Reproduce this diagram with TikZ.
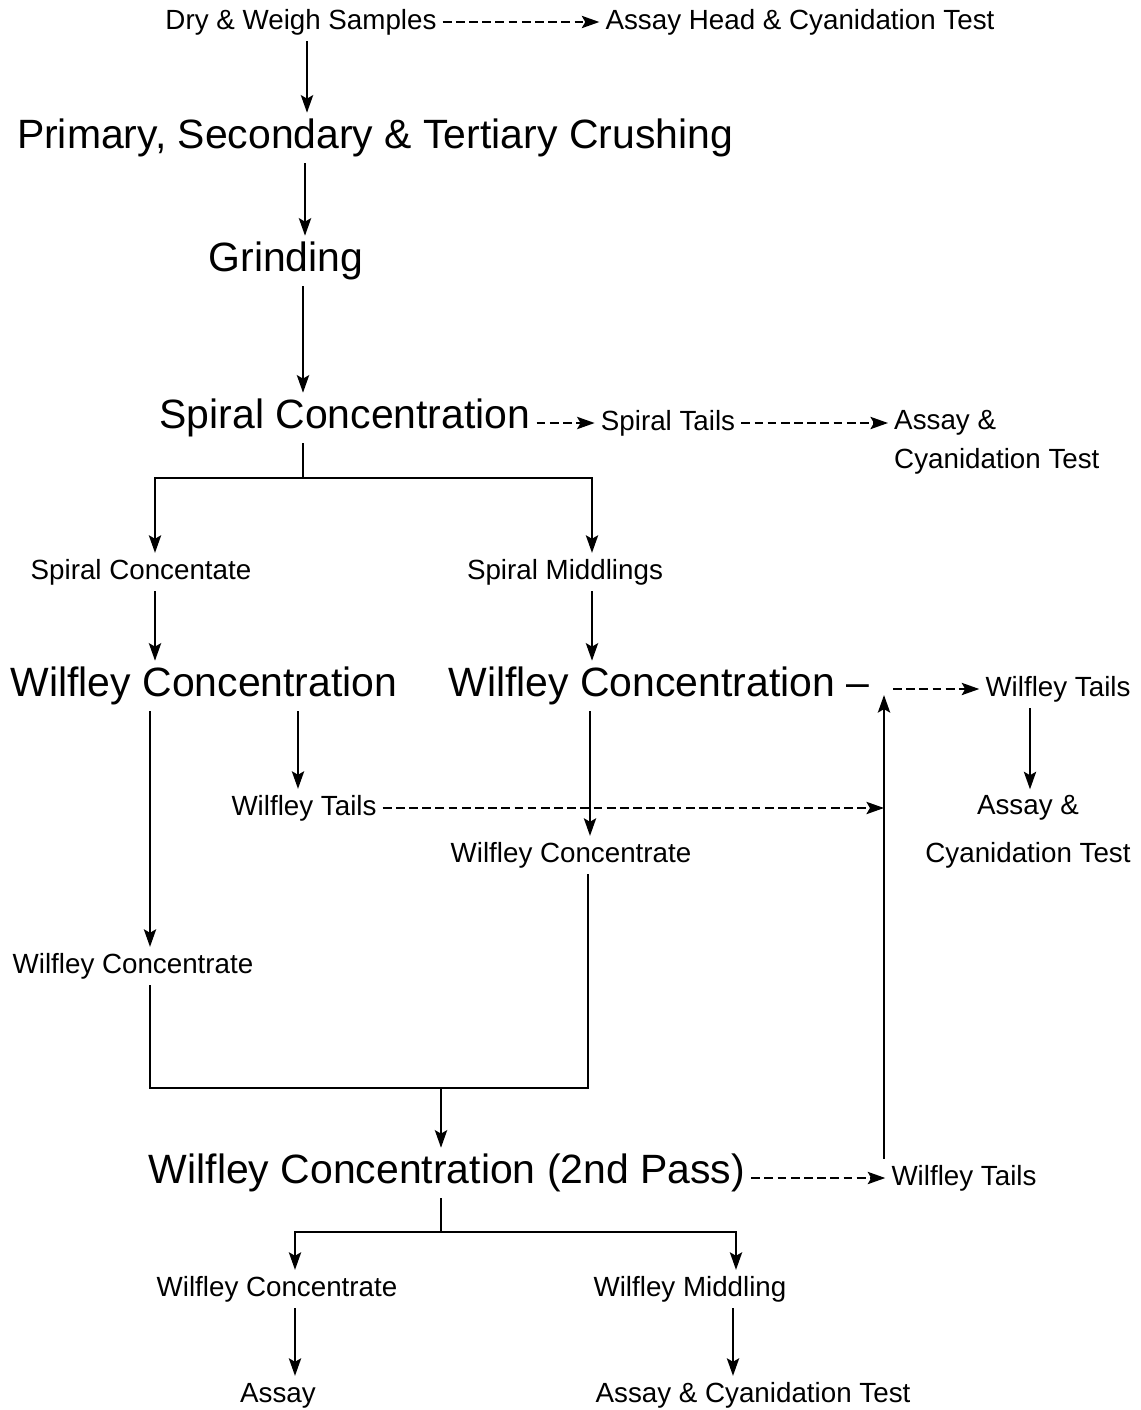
\documentclass[tikz,border=0pt]{standalone}
\usepackage{fontspec}
\setmainfont{Liberation Sans}
\usetikzlibrary{arrows.meta, positioning}

\begin{document}
\begin{tikzpicture}[>={Stealth[length=10pt,width=7pt,inset=2pt]}, x=0.02cm, y=-0.02cm, line width=1.1pt]
  \tikzset{
    small/.style={font=\fontsize{15.8}{19}\selectfont, inner sep=3pt, text height=11.4pt, text depth=3.3pt},
    big/.style={font=\fontsize{23.3}{28}\selectfont, inner sep=3pt, text height=16.8pt, text depth=4.9pt},
    twoline/.style={font=\fontsize{15.8}{#1}\selectfont, inner sep=3pt},
    flow/.style={dash pattern=on 5pt off 2.5pt}
  }
  \useasboundingbox (0,0) rectangle (1141,1410);

  \node[small] (dry) at (301,22) {Dry \& Weigh Samples};
  \node[small] (headtest) at (800,22) {Assay Head \& Cyanidation Test};
  \node[big] (crush) at (375,138) {Primary, Secondary \& Tertiary Crushing};
  \node[big] (grind) at (286,261) {Grinding};
  \node[big] (spiral) at (345,418) {Spiral Concentration};
  \node[small] (stails) at (668,423) {Spiral Tails};
  \node[twoline=22.2pt, align=left, anchor=west] (stassay) at (888,442) {Assay \&\\Cyanidation Test};

  \node[small] (sconc) at (141,572) {Spiral Concentate};
  \node[small] (smid) at (565,572) {Spiral Middlings};

  \node[big] (wcl) at (204,686) {Wilfley Concentration};
  \node[big] (wcr) at (659,686) {Wilfley Concentration --};
  \node[small] (wtr) at (1058,689) {Wilfley Tails};
  \node[twoline=27.3pt, align=center] (wtrassay) at (1028,832) {Assay \&\\Cyanidation Test};

  \node[small] (wtl) at (304,808) {Wilfley Tails};
  \node[small] (wccr) at (571,855) {Wilfley Concentrate};
  \node[small] (wccl) at (133,966) {Wilfley Concentrate};

  \node[big] (wc2) at (447,1173) {Wilfley Concentration (2nd Pass)};
  \node[small] (wt2) at (964,1178) {Wilfley Tails};

  \node[small] (wcc2) at (277,1289) {Wilfley Concentrate};
  \node[small] (wmid) at (690,1289) {Wilfley Middling};
  \node[small] (assay) at (278,1395) {Assay};
  \node[small] (assaycy) at (753,1395) {Assay \& Cyanidation Test};

  \coordinate (split1) at (303,478);
  \coordinate (join) at (884,688);
  \coordinate (merge) at (441,1088);
  \coordinate (split2) at (441,1232);

  % main line
  \path[->] (dry.south -| 307,0) edge (crush.north -| 307,0);
  \path[->] (crush.south -| 305,0) edge (grind.north -| 305,0);
  \path[->] (grind.south -| 303,0) edge (spiral.north -| 303,0);
  \path[flow,->] (dry.east) edge (headtest.west);
  \path[flow,->] (spiral.east |- stails.west) edge (stails.west);
  \path[flow,->] (stails.east) edge (stails.east -| stassay.west);

  \draw (spiral.south -| split1) -- (split1);
  \draw[->] (split1) -| (sconc.north -| 155,0);
  \draw[->] (split1) -| (smid.north -| 592,0);
  \path[->] (sconc.south -| 155,0) edge (wcl.north -| 155,0);
  \path[->] (smid.south -| 592,0) edge (wcr.north -| 592,0);

  % wilfley tables
  \path[->] (wcl.south -| 150,0) edge (wccl.north -| 150,0);
  \path[->] (wcl.south -| 298,0) edge (wtl.north -| 298,0);
  \path[->] (wcr.south -| 590,0) edge (wccr.north -| 590,0);
  \path[flow,->] (wtl.east) edge (wtl.east -| join);
  \path[flow,->] (wtr.west -| 893,0) edge (wtr.west);
  \path[->] (wtr.south -| 1030,0) edge (wtrassay.north -| 1030,0);
  \draw[->] (wt2.north -| join) -- ([yshift=-4pt]join);

  \draw (wccl.south -| 150,0) |- (merge) -| (wccr.south -| 588,0);
  \path[->] (merge) edge (wc2.north -| merge);
  \path[flow,->] (wc2.east |- wt2.west) edge (wt2.west);

  % second pass
  \draw (wc2.south -| split2) -- (split2);
  \draw[->] (split2) -| (wcc2.north -| 295,0);
  \draw[->] (split2) -| (wmid.north -| 736,0);
  \path[->] (wcc2.south -| 295,0) edge (assay.north -| 295,0);
  \path[->] (wmid.south -| 733,0) edge (assaycy.north -| 733,0);

\end{tikzpicture}
\end{document}
